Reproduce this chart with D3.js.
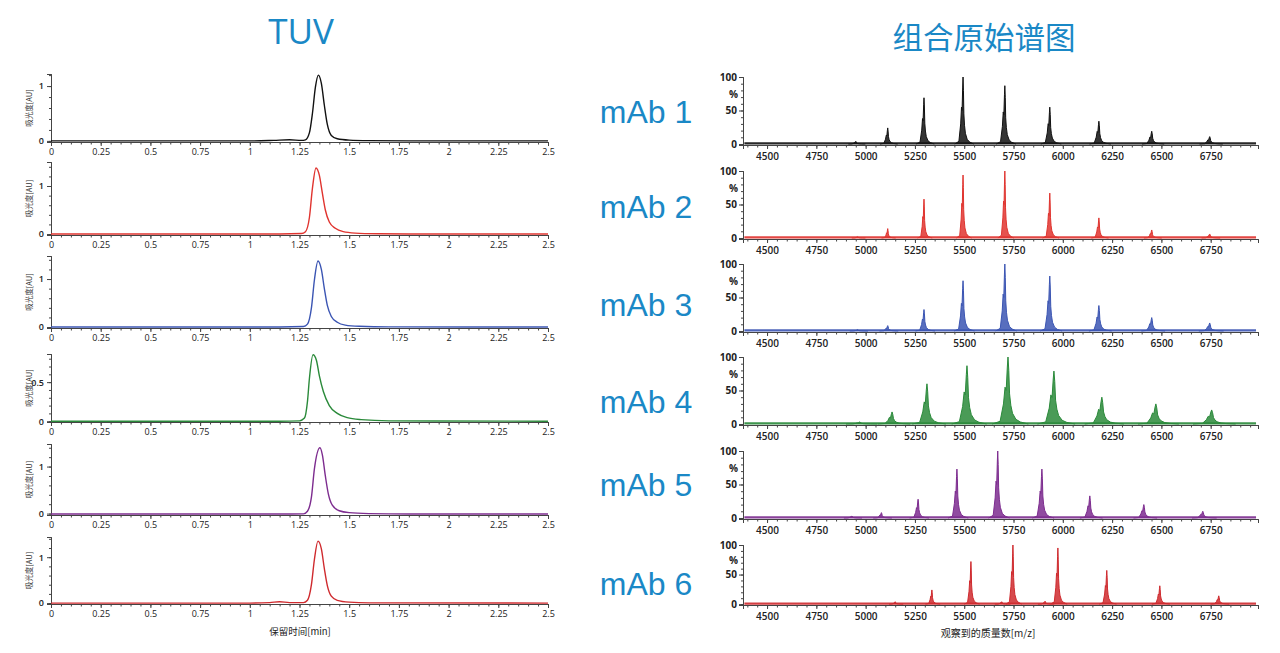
<!DOCTYPE html>
<html><head><meta charset="utf-8">
<script src="https://cdn.jsdelivr.net/npm/d3@7/dist/d3.min.js"></script>
<style>
body{margin:0;background:#fff;}
svg{display:block;}
</style></head>
<body><svg id="c" width="1280" height="653"></svg>
<script>
// ---------- DATA ----------
const samples = ["mAb 1","mAb 2","mAb 3","mAb 4","mAb 5","mAb 6"];
const colors = ["#111111","#e0342f","#3b55b3","#2a8a3a","#7d2c8f","#cf2a2e"];
const leftTitle = "TUV";
const rightTitle = "组合原始谱图";
const leftXLabel = "保留时间[min]";
const rightXLabel = "观察到的质量数[m/z]";
const leftYLabel = "吸光度[AU]";
const rightYLabel = "%";
const timeTicks = [0,0.25,0.5,0.75,1,1.25,1.5,1.75,2,2.25,2.5];
const mzTicks = [4500,4750,5000,5250,5500,5750,6000,6250,6500,6750];
const pctTicks = [0,50,100];
// left y ticks per panel
const auTicks = [[0,1],[0,1],[0,1],[0,0.5],[0,1],[0,1]];
// left y domain per panel
const auMax = [1.22,1.5,1.48,0.86,1.48,1.44];
const auMin = [-0.02,-0.02,-0.02,-0.01,-0.03,-0.02];

// chromatograms [time(min), absorbance(AU)]
const tuv1 = [[0,0],[1.0,0],[1.12,0.01],[1.2,0.02],[1.26,0.01],[1.28,0.02],[1.30,0.15],[1.315,0.5],[1.33,0.98],[1.345,1.2],[1.36,1.05],[1.375,0.65],[1.39,0.3],[1.41,0.1],[1.44,0.04],[1.5,0.015],[1.6,0.005],[1.8,0],[2.5,0]];
const tuv2 = [[0,0],[1.15,0],[1.26,0.01],[1.28,0.05],[1.30,0.35],[1.315,0.95],[1.333,1.375],[1.35,1.22],[1.365,0.85],[1.38,0.5],[1.40,0.25],[1.43,0.12],[1.47,0.05],[1.53,0.02],[1.65,0.005],[1.8,0],[2.5,0]];
const tuv3 = [[0,0],[1.15,0],[1.27,0.01],[1.29,0.06],[1.31,0.4],[1.325,0.98],[1.343,1.375],[1.36,1.2],[1.375,0.8],[1.39,0.45],[1.41,0.22],[1.44,0.1],[1.48,0.04],[1.55,0.015],[1.7,0.003],[2.5,0]];
const tuv4 = [[0,0],[1.15,0],[1.25,0.005],[1.275,0.04],[1.29,0.25],[1.30,0.55],[1.318,0.85],[1.335,0.78],[1.35,0.58],[1.37,0.38],[1.40,0.2],[1.44,0.1],[1.49,0.045],[1.56,0.02],[1.7,0.005],[2.5,0]];
const tuv5 = [[0,-0.01],[1.15,-0.01],[1.27,-0.005],[1.29,0.05],[1.31,0.35],[1.325,0.95],[1.353,1.4],[1.365,1.25],[1.38,0.8],[1.395,0.42],[1.415,0.18],[1.45,0.06],[1.5,0.02],[1.6,0],[1.8,-0.01],[2.5,-0.01]];
const tuv6 = [[0,0],[1.0,0],[1.1,0.01],[1.15,0.03],[1.2,0.01],[1.27,0.01],[1.29,0.06],[1.31,0.4],[1.325,0.95],[1.343,1.35],[1.36,1.18],[1.375,0.75],[1.39,0.38],[1.41,0.15],[1.44,0.06],[1.5,0.02],[1.6,0.005],[2.5,0]];
const tuvData = [tuv1,tuv2,tuv3,tuv4,tuv5,tuv6];

// spectra peaks [m/z, relative intensity %]
const ms1 = [[4950,4],[5112,24],[5296,69],[5494,100],[5706,87],[5934,55],[6183,34],[6451,19],[6745,11]];
const ms2 = [[4960,2],[5112,14],[5296,58],[5494,94],[5706,100],[5934,67],[6183,30],[6451,12],[6745,6]];
const ms3 = [[4960,2],[5112,8],[5296,32],[5494,75],[5706,100],[5934,82],[6183,38],[6451,20],[6745,12]];
const ms4 = [[4970,3],[5134,18],[5311,60],[5514,87],[5722,100],[5955,79],[6198,40],[6472,30],[6755,21]];
const ms5 = [[4930,3],[5080,8],[5266,28],[5463,73],[5670,100],[5894,73],[6137,33],[6411,20],[6710,10]];
const ms6 = [[5150,4],[5336,24],[5534,72],[5690,4],[5747,100],[5910,5],[5975,95],[6223,57],[6492,31],[6791,14]];
const msData = [ms1,ms2,ms3,ms4,ms5,ms6];
const msWidth = [3,2.4,3.2,5.5,3.2,2.4];

// ---------- LAYOUT ----------
const svg = d3.select("#c");
const L = {x0:51, x1:548};
const R = {x0:743, x1:1258};
const leftBase = [142,235,328,422,515,604];
const leftTop = [74,162,256,354,444,537];
const rightBase = [145,239,332,425,519,605];
const rightTop = [77,171,264,357,451,545];
const labelY = [123,218,316,413,496,595];
const blue = "#1a88c6";
const axisColor = "#444";

const xT = d3.scaleLinear().domain([0,2.5]).range([L.x0,L.x1]);
const xM = d3.scaleLinear().domain([4378,6990]).range([R.x0,R.x1]);

function styleAxis(g, fs, fw){
  g.select(".domain").attr("stroke",axisColor).attr("stroke-width",1);
  g.selectAll(".tick line").attr("stroke",axisColor);
  g.selectAll("text").attr("fill","#222").style("font-family","'Open Sans',sans-serif").style("font-size",fs+"px").style("font-weight",fw);
}

// titles
svg.append("text").attr("x",301).attr("y",44).attr("text-anchor","middle")
  .attr("fill",blue).style("font-family","'Open Sans',Arial,sans-serif").style("font-size","35px").text(leftTitle);
svg.append("text").attr("x",984).attr("y",49).attr("text-anchor","middle")
  .attr("fill",blue).style("font-family","'Noto Sans CJK SC',sans-serif").style("font-size","30.5px").text(rightTitle);

samples.forEach((name,i)=>{
  // ---------- LEFT PANEL ----------
  const y = d3.scaleLinear().domain([auMin[i],auMax[i]]).range([leftBase[i],leftTop[i]]);
  const g = svg.append("g");
  const gxm = g.append("g").attr("transform",`translate(0,${leftBase[i]})`)
    .call(d3.axisBottom(xT).tickValues(d3.range(0,2.5001,0.05)).tickSize(2.5).tickFormat(""));
  styleAxis(gxm,9,400);
  const gx = g.append("g").attr("transform",`translate(0,${leftBase[i]})`)
    .call(d3.axisBottom(xT).tickValues(timeTicks).tickSize(4).tickPadding(3).tickFormat(d=>d3.format("~g")(d)));
  styleAxis(gx,9,400);
  const gym = g.append("g").attr("transform",`translate(${L.x0},0)`)
    .call(d3.axisLeft(y).tickValues(d3.range(0,auMax[i],auTicks[i][1]/5)).tickSize(2).tickFormat(""));
  styleAxis(gym,9,400);
  const gy = g.append("g").attr("transform",`translate(${L.x0},0)`)
    .call(d3.axisLeft(y).tickValues(auTicks[i]).tickSize(4).tickPadding(3).tickFormat(d=>d3.format("~g")(d)));
  styleAxis(gy,9,600);
  g.append("text").attr("transform",`translate(32,${(leftBase[i]+leftTop[i])/2}) rotate(-90)`)
    .attr("text-anchor","middle").attr("fill","#333")
    .style("font-family","'Noto Sans CJK SC',sans-serif").style("font-size","7.5px").text(leftYLabel);
  const line = d3.line().x(d=>xT(d[0])).y(d=>y(d[1])).curve(d3.curveMonotoneX);
  g.append("path").datum(tuvData[i]).attr("d",line).attr("fill","none")
    .attr("stroke",colors[i]).attr("stroke-width",1.4);

  // ---------- SAMPLE LABEL ----------
  svg.append("text").attr("x",646).attr("y",labelY[i]).attr("text-anchor","middle")
    .attr("fill",blue).style("font-family","Arial,'Liberation Sans',sans-serif").style("font-size","32px").text(name);

  // ---------- RIGHT PANEL ----------
  const yr = d3.scaleLinear().domain([-1.5,100]).range([rightBase[i],rightTop[i]]);
  const h = svg.append("g");
  const hxm = h.append("g").attr("transform",`translate(0,${rightBase[i]})`)
    .call(d3.axisBottom(xM).tickValues(d3.range(4400,6990,50)).tickSize(2.5).tickFormat(""));
  styleAxis(hxm,10,600);
  const hx = h.append("g").attr("transform",`translate(0,${rightBase[i]})`)
    .call(d3.axisBottom(xM).tickValues(mzTicks).tickSize(4).tickPadding(4).tickFormat(d3.format("d")));
  styleAxis(hx,10,600);
  const hym = h.append("g").attr("transform",`translate(${R.x0},0)`)
    .call(d3.axisLeft(yr).tickValues(d3.range(0,101,10)).tickSize(2).tickFormat(""));
  styleAxis(hym,10,600);
  const hy = h.append("g").attr("transform",`translate(${R.x0},0)`)
    .call(d3.axisLeft(yr).tickValues(pctTicks).tickSize(4).tickPadding(2).tickFormat(d3.format("d")));
  styleAxis(hy,10,700);
  h.append("text").attr("x",R.x0-5).attr("y",yr(75)+4).attr("text-anchor","end")
    .attr("fill","#222").style("font-family","'Open Sans',sans-serif").style("font-size","10px").style("font-weight",700).text(rightYLabel);

  h.append("line").attr("x1",xM(4385)).attr("x2",xM(6980)).attr("y1",yr(0.8)).attr("y2",yr(0.8))
    .attr("stroke",colors[i]).attr("stroke-width",2.2).attr("opacity",0.9);
  const shape = [[-14,0],[-7,0.04],[-4,0.3],[-2.6,0.55],[-1.6,0.5],[-0.6,0.85],[0,1],[0.7,0.8],[1.4,0.45],[2.5,0.28],[4,0.16],[7,0.07],[11,0.03],[18,0]];
  const w = msWidth[i];
  const pk = d3.line().x(d=>d[0]).y(d=>d[1]);
  msData[i].forEach(p=>{
    const pts = shape.map(s=>[xM(p[0]+s[0]*w*(p[0]/5500)), yr(s[1]*p[1])]);
    h.append("path").attr("d",pk(pts)).attr("fill",colors[i]).attr("fill-opacity",0.85)
      .attr("stroke",colors[i]).attr("stroke-width",1).attr("stroke-linejoin","round");
  });
});

// axis titles
svg.append("text").attr("x",300).attr("y",635).attr("text-anchor","middle").attr("fill","#222")
  .style("font-family","'Noto Sans CJK SC',sans-serif").style("font-size","9.5px").text(leftXLabel);
svg.append("text").attr("x",988).attr("y",637).attr("text-anchor","middle").attr("fill","#222")
  .style("font-family","'Noto Sans CJK SC',sans-serif").style("font-size","10px").text(rightXLabel);
</script></body></html>
